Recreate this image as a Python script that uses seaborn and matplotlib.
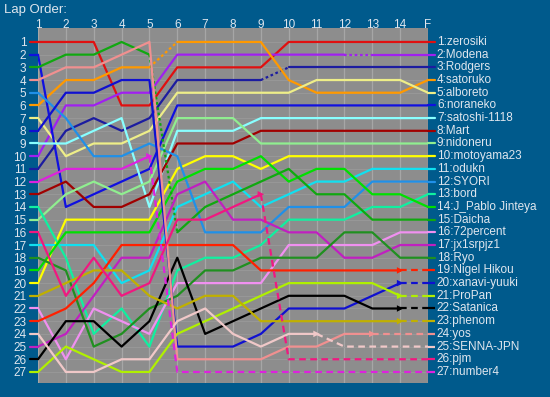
import matplotlib
matplotlib.use("Agg")
import matplotlib.pyplot as plt
import seaborn as sns
import pandas as pd

sns.set_style("dark")
plt.rcParams['font.family'] = ['Liberation Sans', 'DejaVu Sans']

BG = "#005a8c"
PANEL = "#8d8d8d"
TXT = "#dfe6ee"

# laps 1..14 plus the finish column
laps = list(range(1, 16))
lap_labels = [str(i) for i in range(1, 15)] + ["F"]

# position of each driver at every lap (1..14, F)
zerosiki = [1, 1, 1, 6, 6, 3, 3, 3, 3, 1, 1, 1, 1, 1, 1]
modena = [10, 6, 6, 5, 5, 2, 2, 2, 2, 2, 2, 2, 2, 2, 2]
rodgers = [11, 8, 7, 8, 7, 4, 4, 4, 4, 3, 3, 3, 3, 3, 3]
satoruko = [6, 4, 4, 3, 3, 1, 1, 1, 1, 4, 5, 5, 5, 5, 4]
alboreto = [7, 10, 9, 9, 8, 5, 5, 5, 5, 5, 4, 4, 4, 4, 5]
noraneko = [2, 14, 13, 12, 11, 6, 6, 6, 6, 6, 6, 6, 6, 6, 6]
satoshi = [9, 9, 8, 7, 14, 8, 8, 8, 7, 7, 7, 7, 7, 7, 7]
mart = [13, 12, 14, 14, 13, 9, 9, 9, 8, 8, 8, 8, 8, 8, 8]
nidoneru = [15, 13, 12, 13, 12, 7, 7, 7, 9, 9, 9, 9, 9, 9, 9]
motoyama = [20, 15, 15, 15, 15, 11, 10, 10, 11, 10, 10, 10, 10, 10, 10]
odukn = [17, 17, 17, 20, 19, 14, 13, 12, 14, 13, 12, 12, 11, 11, 11]
syori = [5, 7, 10, 10, 9, 10, 16, 16, 16, 14, 14, 14, 12, 12, 12]
bord = [14, 18, 24, 22, 25, 19, 18, 18, 17, 15, 15, 15, 14, 14, 13]
jpablo = [19, 16, 16, 16, 16, 12, 11, 11, 10, 12, 11, 11, 13, 13, 14]
daicha = [3, 2, 2, 1, 2, 16, 14, 13, 12, 11, 13, 13, 15, 15, 15]
percent72 = [22, 26, 22, 23, 24, 20, 20, 20, 20, 17, 17, 17, 17, 16, 16]
jx1srpjz1 = [25, 24, 21, 18, 18, 13, 12, 15, 15, 16, 16, 18, 18, 17, 17]
ryo = [18, 19, 25, 24, 22, 21, 19, 19, 18, 18, 18, 16, 16, 18, 18]
nigel = [23, 22, 20, 17, 17, 17, 17, 17, 19, 19, 19, 19, 19, 19, 19]
xanavi = [8, 5, 5, 4, 4, 25, 25, 25, 24, 22, 22, 22, 21, 20, 20]
propan = [27, 25, 26, 27, 27, 24, 23, 22, 21, 20, 20, 20, 20, 21, 21]
satanica = [26, 23, 23, 25, 23, 18, 24, 23, 22, 21, 21, 21, 22, 22, 22]
phenom = [21, 20, 19, 19, 21, 22, 21, 21, 23, 23, 23, 23, 23, 23, 23]
yos = [4, 3, 3, 2, 1, 26, 26, 26, 26, 25, 25, 24, 24, 24, 24]
senna = [24, 27, 27, 26, 26, 23, 22, 24, 25, 24, 24, 25, 25, 25, 25]
pjm = [16, 21, 18, 21, 20, 15, 15, 14, 13, 26, 26, 26, 26, 26, 26]
number4 = [12, 11, 11, 11, 10, 27, 27, 27, 27, 27, 27, 27, 27, 27, 27]

names = ["zerosiki", "Modena", "Rodgers", "satoruko", "alboreto", "noraneko",
         "satoshi-1118", "Mart", "nidoneru", "motoyama23", "odukn", "SYORI",
         "bord", "J_Pablo Jinteya", "Daicha", "72percent", "jx1srpjz1", "Ryo",
         "Nigel Hikou", "xanavi-yuuki", "ProPan", "Satanica", "phenom", "yos",
         "SENNA-JPN", "pjm", "number4"]
positions = [zerosiki, modena, rodgers, satoruko, alboreto, noraneko, satoshi,
             mart, nidoneru, motoyama, odukn, syori, bord, jpablo, daicha,
             percent72, jx1srpjz1, ryo, nigel, xanavi, propan, satanica,
             phenom, yos, senna, pjm, number4]
colors = ["#e01010", "#a020f0", "#1c1ca0", "#ff9900", "#eeee88", "#1010e0",
          "#88ffff", "#a00000", "#90ee90", "#ffff00", "#10e0f0", "#2090e8",
          "#10f0a0", "#00e000", "#10a810", "#f090f0", "#c020c0", "#209020",
          "#ff2000", "#1010d0", "#b0f000", "#000000", "#c0b000", "#f09090",
          "#f0c8c8", "#f01880", "#dd22dd"]

# lap where the arrow is drawn (dashed afterwards)
retired_at = {"number4": 5, "pjm": 9, "SENNA-JPN": 11, "yos": 13,
              "Nigel Hikou": 14, "xanavi-yuuki": 14, "ProPan": 14,
              "Satanica": 14, "phenom": 14}
# dotted segments (start lap)
dotted = {("satoruko", 5), ("Daicha", 5), ("Rodgers", 9), ("Modena", 12)}

# build long table, one unit per run of equal line style
recs = []
unit = 0
for name, pos in zip(names, positions):
    prev = None
    for i in range(14):
        a = i + 1
        if name in retired_at and a >= retired_at[name]:
            kind = "dashed"
        elif (name, a) in dotted:
            kind = "dotted"
        else:
            kind = "solid"
        if kind != prev:
            unit += 1
            recs.append(dict(lap=laps[i], pos=pos[i], driver=name, kind=kind, unit=unit))
        recs.append(dict(lap=laps[i + 1], pos=pos[i + 1], driver=name, kind=kind, unit=unit))
        prev = kind
df = pd.DataFrame(recs)

fig = plt.figure(figsize=(5.5, 3.97), dpi=100, facecolor=BG)
ax = fig.add_axes([38 / 550, 1 - 383 / 397, 390 / 550, 355 / 397])
ax.set_facecolor(PANEL)

for x in laps:
    ax.axvline(x, color="#a6a6a6", lw=0.9, zorder=0)
for r in range(1, 28):
    ax.axhline(r, color="#999999", lw=0.6, zorder=0)

palette = dict(zip(names, colors))
sns.lineplot(data=df, x="lap", y="pos", hue="driver", units="unit",
             style="kind", dashes={"solid": "", "dotted": (1.2, 1.2), "dashed": (3, 2)},
             palette=palette, estimator=None, sort=False, legend=False,
             linewidth=1.6, ax=ax)

# arrow heads where a driver stopped
arr = pd.DataFrame([dict(lap=retired_at[n], pos=p[retired_at[n] - 1], driver=n)
                    for n, p in zip(names, positions) if n in retired_at])
sns.scatterplot(data=arr, x="lap", y="pos", hue="driver", palette=palette,
                marker=">", s=22, linewidth=0, legend=False, ax=ax, zorder=5)

# short stubs outside the panel
for name, pos, col in zip(names, positions, colors):
    ax.plot([0.71, 1], [pos[0], pos[0]], color=col, lw=1.6, clip_on=False)
    ls = "--" if name in retired_at else "-"
    ax.plot([15, 15.25], [pos[-1], pos[-1]], color=col, lw=1.6, ls=ls, clip_on=False)
    ax.text(15.32, pos[-1], f"{pos[-1]}:{name}", color=TXT, fontsize=8.5,
            va="center", ha="left", clip_on=False)

ax.set_xlim(1, 15)
ax.set_ylim(27.87, -0.10)
ax.xaxis.tick_top()
ax.set_xticks(laps)
ax.set_xticklabels(lap_labels, color=TXT, fontsize=8.5)
ax.set_yticks(range(1, 28))
ax.set_yticklabels([str(r) for r in range(1, 28)], color=TXT, fontsize=8.5)
ax.tick_params(length=0)
ax.tick_params(axis="y", pad=8.5)
ax.tick_params(axis="x", pad=-2.5)
ax.set_xlabel("")
ax.set_ylabel("")
for s in ax.spines.values():
    s.set_visible(False)

fig.text(4 / 550, 1 - 10 / 397, "Lap Order:", color=TXT, fontsize=9.5, va="center", ha="left")

fig.savefig("out.png", dpi=100, facecolor=BG)
